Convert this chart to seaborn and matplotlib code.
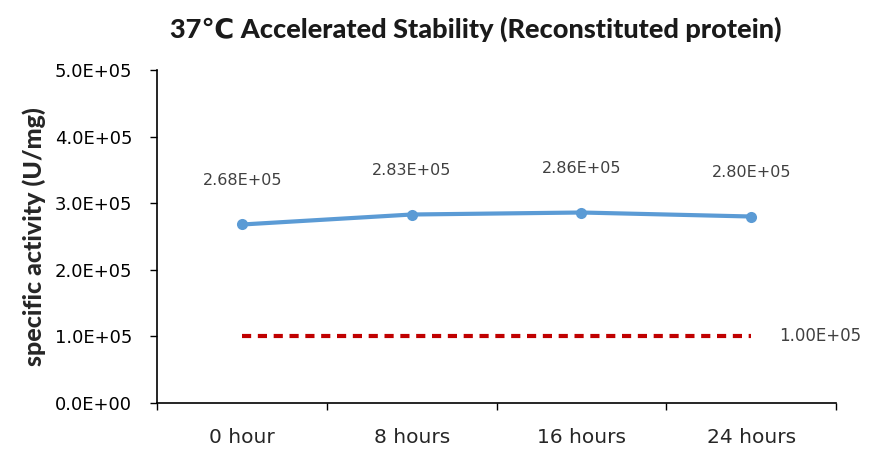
import matplotlib
matplotlib.use("Agg")
import matplotlib.pyplot as plt
import seaborn as sns
import pandas as pd
from matplotlib.ticker import FuncFormatter, FixedLocator

categories = ["0 hour", "8 hours", "16 hours", "24 hours"]
activity = [2.68e5, 2.83e5, 2.86e5, 2.80e5]
threshold = [1.00e5, 1.00e5, 1.00e5, 1.00e5]
title = "37\u2103 Accelerated Stability (Reconstituted protein)"
ylabel = "specific activity (U/mg)"

sns.set_theme(style="white")
plt.rcParams['font.family'] = ['Lato', 'DejaVu Sans']

df = pd.DataFrame({"time": categories, "activity": activity, "threshold": threshold})

fig = plt.figure(figsize=(8.69, 4.55), dpi=100)
ax = fig.add_axes([0.181, 0.1143, 0.781, 0.7319])

sns.lineplot(data=df, x="time", y="threshold", ax=ax, color="#C00000",
             linewidth=3, linestyle=(0, (2.2, 1.6)), sort=False)
sns.lineplot(data=df, x="time", y="activity", ax=ax, color="#5B9BD5",
             linewidth=3, marker="o", markersize=8, markeredgewidth=0, sort=False)

for i, v in enumerate(activity):
    ax.annotate(f"{v:.2E}", (i, v), xytext=(0, 26), textcoords="offset points",
                ha="center", va="bottom", fontsize=11.5, color="#404040",
                family=['DejaVu Sans'])
ax.annotate(f"{threshold[-1]:.2E}", (len(categories) - 1, threshold[-1]),
            xytext=(20, 0), textcoords="offset points", ha="left", va="center",
            fontsize=12, color="#404040", family=['DejaVu Sans'])

ax.set_xlim(-0.5, len(categories) - 0.5)
ax.set_ylim(0, 5e5)
ax.set_yticks([0, 1e5, 2e5, 3e5, 4e5, 5e5])
ax.yaxis.set_major_formatter(FuncFormatter(lambda v, p: f"{v:.1E}"))
for lbl in ax.get_yticklabels():
    lbl.set_family(['DejaVu Sans'])
ax.tick_params(axis="y", labelsize=13, length=5, width=1, direction="out",
               left=True, color="black", labelcolor="black", pad=13)
ax.xaxis.set_minor_locator(FixedLocator([-0.5, 0.5, 1.5, 2.5, 3.5]))
ax.tick_params(axis="x", which="major", length=0, labelsize=14.5, pad=18)
ax.tick_params(axis="x", which="minor", length=5, width=1, direction="out",
               bottom=True, color="black")
for lbl in ax.get_xticklabels():
    lbl.set_family(['DejaVu Sans'])

for s in ["top", "right"]:
    ax.spines[s].set_visible(False)
for s in ["left", "bottom"]:
    ax.spines[s].set_color("black")
    ax.spines[s].set_linewidth(1.2)

ax.set_xlabel("")
ax.set_ylabel(ylabel, fontsize=18, fontweight="black", labelpad=6)
fig.text(0.547, 0.935, title, ha="center", va="center", fontsize=19.5,
         fontweight="black", color="#1a1a1a")

fig.savefig("out.png", dpi=100)
